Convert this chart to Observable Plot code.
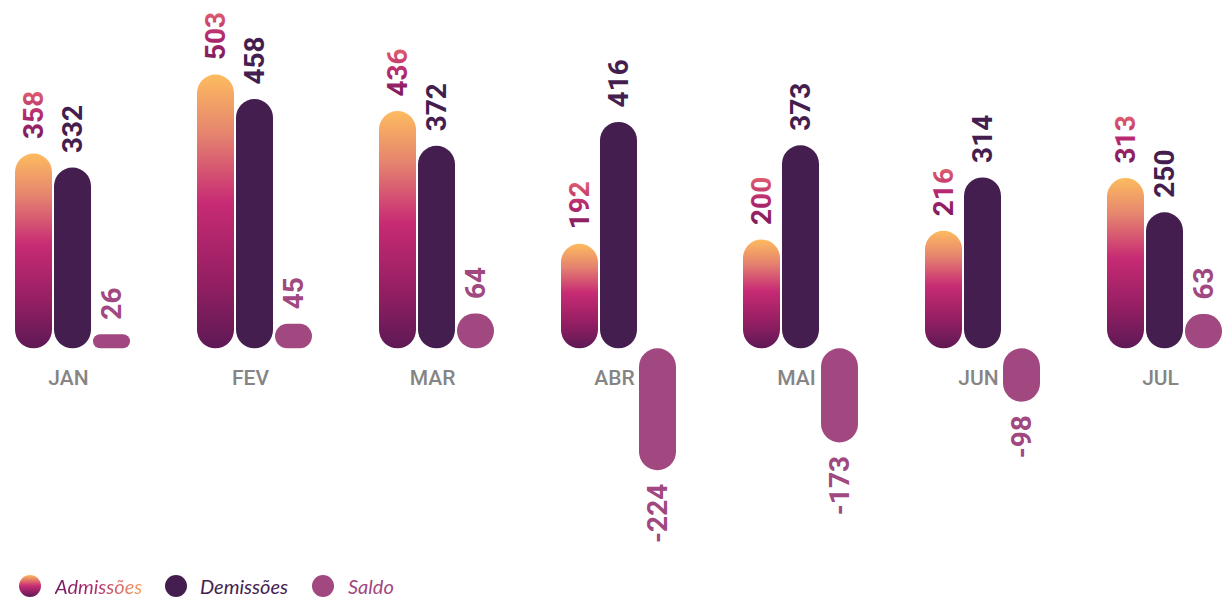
<!DOCTYPE html>
<html><head><meta charset="utf-8">
<script src="https://cdn.jsdelivr.net/npm/d3@7"></script>
<script src="https://cdn.jsdelivr.net/npm/@observablehq/plot@0.6"></script>
<style>
body{margin:0;background:#fff;}
#wrap{position:relative;width:1223px;height:598px;overflow:hidden;}
#legend{position:absolute;left:0;top:574px;width:1223px;height:24px;font-family:Lato,"Open Sans",sans-serif;font-style:italic;font-size:20px;}
#legend .sw{position:absolute;top:1px;width:22px;height:22px;border-radius:50%;}
#legend .lab{position:absolute;top:0;line-height:24px;white-space:nowrap;}
.grad-text{background:linear-gradient(90deg,#6e1c5c 0%,#b22a70 45%,#f5a25f 100%);-webkit-background-clip:text;background-clip:text;color:transparent;}
</style>
</head><body>
<div id="wrap">
<div id="chart"></div>
<div id="legend"></div>
</div>
<script>
const months = ["JAN","FEV","MAR","ABR","MAI","JUN","JUL"];
const admissoes = [358,503,436,192,200,216,313];
const demissoes = [332,458,372,416,373,314,250];
const saldo = [26,45,64,-224,-173,-98,63];
const series = ["Admissões","Demissões","Saldo"];

const seriesColors = ["url(#gradAdm)","#451e50","#a0487f"];

const rows = months.flatMap((m,i)=>[
  {month:m, serie:series[0], value:admissoes[i]},
  {month:m, serie:series[1], value:demissoes[i]},
  {month:m, serie:series[2], value:saldo[i]}
]);

const labelStyle = {fx:"month", x:"serie", y:"value", text:d=>String(d.value), rotate:-90, fontSize:28, fontWeight:700};

const svg = Plot.plot({
  width:1223, height:566,
  marginTop:0, marginBottom:0, marginLeft:15, marginRight:0,
  style:{background:"transparent", fontFamily:"Roboto, sans-serif", overflow:"visible"},
  fx:{domain:months, paddingInner:0.363, paddingOuter:0, axis:null, label:null},
  x:{domain:series, paddingInner:0.05, paddingOuter:0, axis:null},
  y:{domain:[-400,640], axis:null},
  color:{domain:series, range:seriesColors},
  marks:[
    Plot.barY(rows, {fx:"month", x:"serie", y:"value", fill:"serie", inset:0}),
    Plot.text(rows.filter(d=>d.serie===series[0]), {...labelStyle, textAnchor:"start", dy:-15, fill:"url(#gradTxt)"}),
    Plot.text(rows.filter(d=>d.serie===series[1]), {...labelStyle, textAnchor:"start", dy:-15, fill:"#451e50"}),
    Plot.text(rows.filter(d=>d.serie===series[2] && d.value>=0), {...labelStyle, textAnchor:"start", dy:-15, fill:"#a0487f"}),
    Plot.text(rows.filter(d=>d.serie===series[2] && d.value<0), {...labelStyle, textAnchor:"end", dy:13, fill:"#a0487f"}),
    Plot.text(months, {fx:d=>d, y:()=>0, text:d=>d, dy:29, dx:-5, fill:"#858585", fontSize:21, fontWeight:500})
  ]
});

const s = d3.select(svg);
const defs = s.insert("defs", ":first-child");
const g1 = defs.append("linearGradient").attr("id","gradAdm").attr("x1",0).attr("y1",0).attr("x2",0).attr("y2",1);
[[0,"#fdbb5f"],[0.22,"#e5836f"],[0.47,"#c72b74"],[0.75,"#961f63"],[1,"#5e1955"]].forEach(([o,c])=>g1.append("stop").attr("offset",o).attr("stop-color",c));
const g2 = defs.append("linearGradient").attr("id","gradTxt").attr("x1",0).attr("y1",0).attr("x2",1).attr("y2",0);
[[0,"#7a1c5c"],[0.5,"#b52870"],[1,"#e0606e"]].forEach(([o,c])=>g2.append("stop").attr("offset",o).attr("stop-color",c));

s.selectAll("rect").each(function(){
  const w = +this.getAttribute("width"), h = +this.getAttribute("height");
  if (w && h) { const r = Math.min(w,h)/2; this.setAttribute("rx", r); this.setAttribute("ry", r); }
});

document.getElementById("chart").appendChild(svg);

const legend = d3.select("#legend");
const legendItems = [
  {label:series[0], sw:"linear-gradient(180deg,#fdbb5f 0%,#c72b74 50%,#5e1955 100%)", cls:"grad-text", color:null, swLeft:19, labLeft:55},
  {label:series[1], sw:"#451e50", cls:"", color:"#451e50", swLeft:165, labLeft:200},
  {label:series[2], sw:"#a0487f", cls:"", color:"#a0487f", swLeft:312, labLeft:348}
];
legendItems.forEach(it=>{
  legend.append("span").attr("class","sw").style("left",it.swLeft+"px").style("background",it.sw);
  const l = legend.append("span").attr("class","lab "+it.cls).style("left",it.labLeft+"px").text(it.label);
  if (it.color) l.style("color",it.color);
});
</script>
</body></html>
